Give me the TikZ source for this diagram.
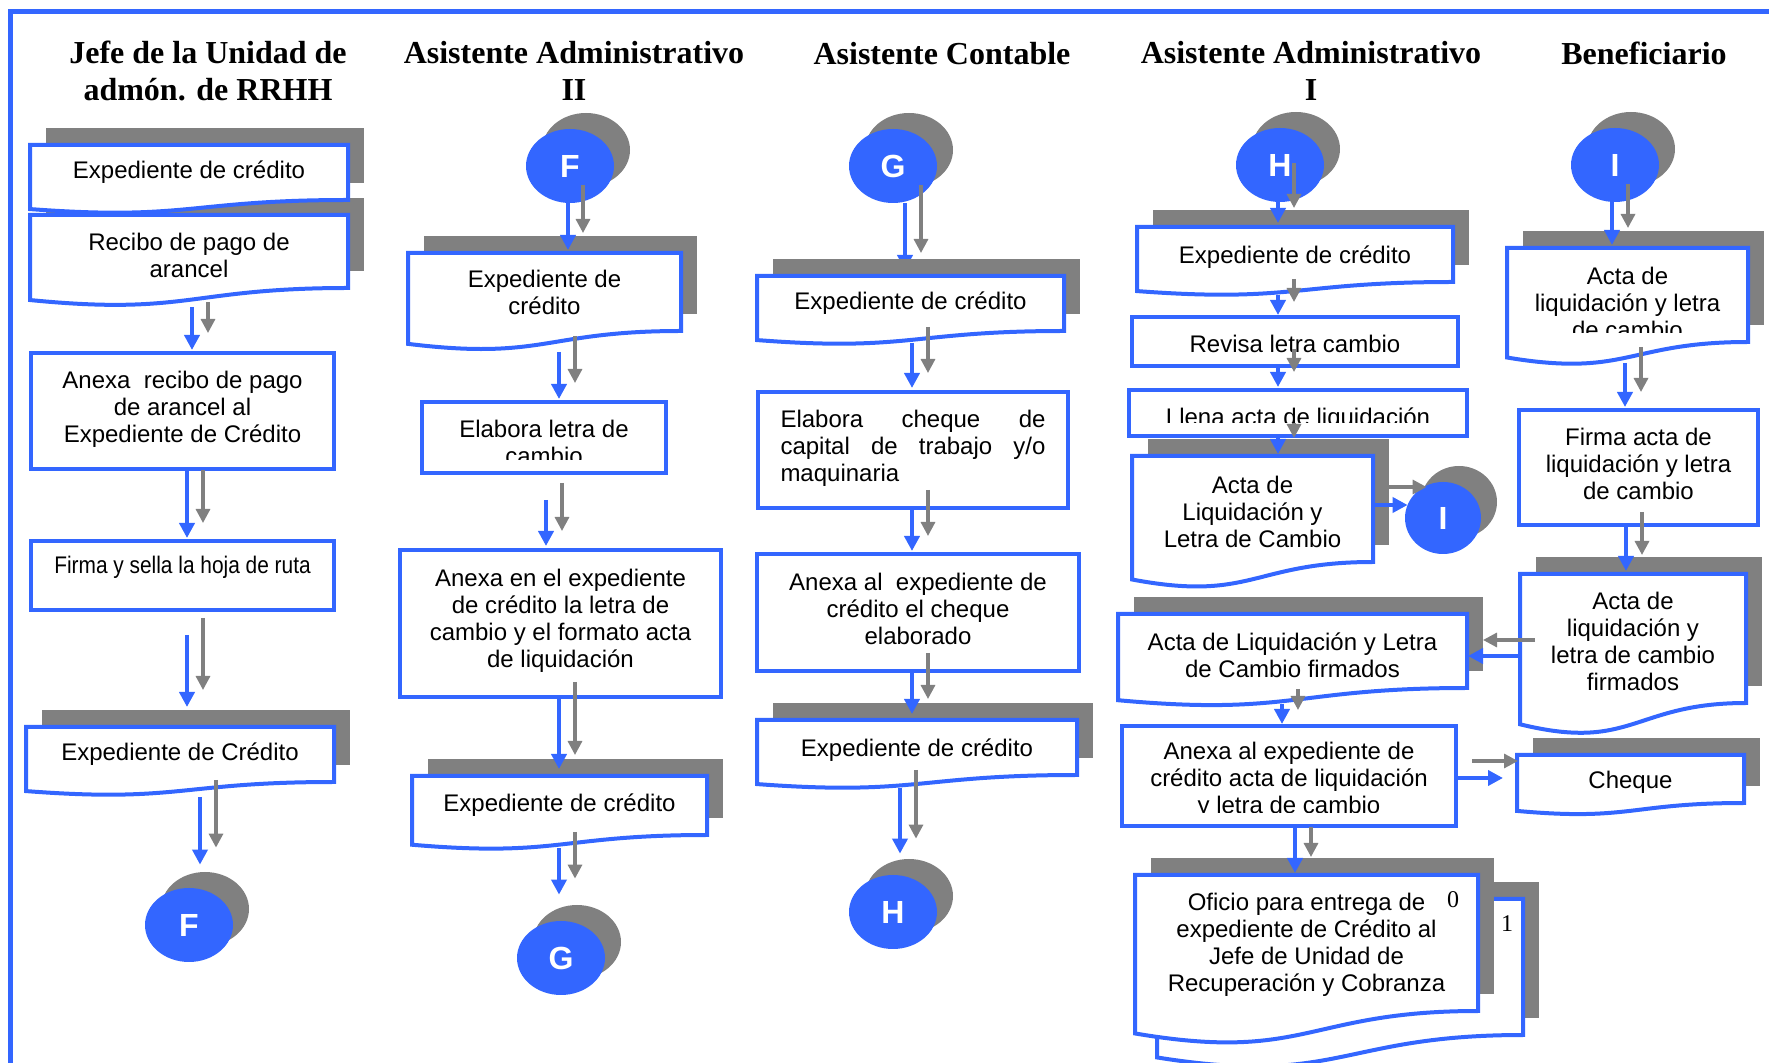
\documentclass[tikz,border=0pt]{standalone}
\usepackage{fontspec}
\setmainfont{Liberation Sans}
\newfontfamily\hdfont{Liberation Serif}
\usepackage{graphicx}
\usetikzlibrary{arrows.meta,shapes.geometric}
\pgfdeclarelayer{bg}
\pgfsetlayers{bg,main}
\definecolor{cblue}{RGB}{51,102,255}
\definecolor{cgray}{RGB}{128,128,128}
\tikzset{
 frame/.style={draw=cblue, line width=2.5pt, line join=miter},
 shade/.style={fill=cgray},
 docpath/.style={draw=cblue, fill=white, line width=2pt, line join=miter},
 shapenode/.style={inner sep=0pt, outer sep=0pt, align=center, font=\fontsize{12}{13.5}\selectfont},
 boxnode/.style={shapenode, draw=cblue, fill=white, line width=2pt},
 conn/.style={ellipse, fill=cblue, inner sep=0pt, minimum width=44pt, minimum height=37pt, text=white, font=\bfseries\fontsize{16}{18}\selectfont},
 head/.style={font=\hdfont\bfseries\fontsize{16}{18.5}\selectfont, align=center, inner sep=0pt},
 flow/.style={draw=cblue, line width=2pt, -{Triangle[length=7.5pt,width=7.5pt]}},
 sflow/.style={draw=cgray, line width=1.6pt, -{Triangle[length=7pt,width=7pt]}},
 num/.style={font=\hdfont\fontsize{12}{14}\selectfont, inner sep=0pt},
}
% shift text down / up (1pt here moves the text 1px)
\newcommand\dn[2]{\raisebox{0pt}[\dimexpr\height+#1\relax][\depth]{#2}}
\newcommand\up[2]{\raisebox{0pt}[\height][\dimexpr\depth+#1\relax]{#2}}
\newcommand\docshadow[4]{\fill[shade] ({#1+16},{#2-17}) rectangle ({#1+#3+16},{#2+#4-17});}
\newcommand\docwave[4]{\draw[docpath] (#1,#2) -- ({#1+#3},#2) -- ({#1+#3},{#2+#4}) .. controls ({#1+0.5*#3},{#2+#4}) and ({#1+0.5*#3},{#2+1.38*#4}) .. (#1,{#2+1.165*#4}) -- cycle;}
\newcommand\docshape[6]{\docwave{#2}{#3}{#4}{#5}
 \node[shapenode, minimum width={#4*0.5pt}, minimum height={#5*0.5pt}] (#1) at ({#2+0.5*#4},{#3+0.5*#5}) {#6};}
\newcommand\docclip[7]{\docwave{#2}{#3}{#4}{#5}
 \begin{scope}\clip (#2,#3) rectangle ({#2+#4},#6);
 \node[shapenode, minimum width={#4*0.5pt}, minimum height={#5*0.5pt}] (#1) at ({#2+0.5*#4},{#3+0.5*#5}) {#7};
 \end{scope}}
\newcommand\bx[6]{\node[boxnode, minimum width={(#4-#2)*0.5pt}, minimum height={(#5-#3)*0.5pt}] (#1) at ({(#2+#4)/2},{(#3+#5)/2}) {#6};}
\newcommand\bxclip[7]{\draw[draw=cblue, fill=white, line width=2pt] (#2,#3) rectangle (#4,#5);
 \begin{scope}\clip (#2,#3) rectangle (#4,#6);
 \node[shapenode, minimum width={(#4-#2)*0.5pt}, minimum height={(#5-#3)*0.5pt}] (#1) at ({(#2+#4)/2},{(#3+#5)/2}) {#7};
 \end{scope}}
\newcommand\cshadow[2]{\fill[shade] ({#1+16},{#2-16}) ellipse [x radius=22pt, y radius=18.5pt];}

\begin{document}
\begin{tikzpicture}[x=0.5pt,y=-0.5pt]
\useasboundingbox (0,0) rectangle (1769,1063);
\draw[frame] (10.5,1063) -- (10.5,11.5) -- (1769,11.5);

% headings
\node[head] (h1) at (208,70.5) {Jefe de la Unidad de\\admón. de RRHH};
\node[head] (h2) at (574,70.5) {Asistente Administrativo\\II};
\node[head, anchor=base] (h3) at (942,65) {Asistente Contable};
\node[head] (h4) at (1311,70.5) {Asistente Administrativo\\I};
\node[head, anchor=base] (h5) at (1644,65) {Beneficiario};

% shadows
\docshadow{30}{145}{318}{55}
\docshadow{30}{215}{318}{73}
\docshadow{26}{727}{308}{55}
\docshadow{408}{253}{273}{78}
\docshadow{412}{776}{295}{59}
\docshadow{757}{276}{307}{55}
\docshadow{757}{720}{320}{55}
\docshadow{1137}{227}{316}{55}
\docshadow{1132}{456}{241}{106}
\docshadow{1118}{614}{349}{74}
\docshadow{1507}{248}{241}{94}
\docshadow{1520}{574}{226}{129}
\docshadow{1517}{755}{227}{48}
\cshadow{189}{925}
\cshadow{570}{166}
\cshadow{561}{958}
\cshadow{893}{166}
\cshadow{893}{912}
\cshadow{1280}{165}
\cshadow{1615}{165}
\fill[shade] (1459,502) ellipse [x radius=19pt, y radius=18pt];

% column 1
\docshape{j1}{30}{145}{318}{55}{Expediente de crédito}
\docshape{j2}{30}{215}{318}{73}{\dn{3.5pt}{Recibo de pago de}\\arancel}
\bx{j3}{31}{353}{334}{469}{Anexa\ \ recibo de pago\\de arancel al\\\up{1.5pt}{Expediente de Crédito}}
\bx{j4}{31}{541}{334}{610}{\up{8.5pt}{\scalebox{0.87}[1]{Firma y sella la hoja de ruta}}}
\docshape{j5}{26}{727}{308}{55}{Expediente de Crédito}
\node[conn] (F1) at (189,925) {F};

% column 2
\node[conn] (F2) at (570,166) {F};
\docshape{k1}{408}{253}{273}{78}{Expediente de\\crédito}
\bxclip{k2}{422}{402}{666}{473}{460}{\dn{5pt}{Elabora letra de}\\cambio}
\bx{k3}{400}{550}{721}{697}{Anexa en el expediente\\de crédito la letra de\\cambio y el formato acta\\\up{3pt}{de liquidación}}
\docshape{k4}{412}{776}{295}{59}{Expediente de crédito}
\node[conn] (G1) at (561,958) {G};

% column 3
\node[conn] (G2) at (893,166) {G};
\docshape{m1}{757}{276}{307}{55}{Expediente de crédito}
\node[boxnode, minimum width=155pt, minimum height=58pt, text width=132.5pt, align=left] (m2) at (913,450)
 {Elabora\hfill cheque\hfill de\\capital\hfill de\hfill trabajo\hfill y/o\\\up{2pt}{maquinaria}};
\bx{m3}{757}{554}{1079}{671}{Anexa al\ \ expediente de\\crédito el cheque\\\up{3.5pt}{elaborado}}
\docshape{m4}{757}{720}{320}{55}{\dn{2.5pt}{Expediente de crédito}}
\node[conn] (H1) at (893,912) {H};

% column 4
\node[conn] (H2) at (1280,165) {H};
\docshape{n1}{1137}{227}{316}{55}{\dn{2.5pt}{Expediente de crédito}}
\bx{n2}{1132}{317}{1458}{366}{\dn{2pt}{Revisa letra cambio}}
\bxclip{n3}{1129}{390}{1467}{436}{423}{\dn{6pt}{Llena acta de liquidación}}
\docshape{n4}{1132}{456}{241}{106}{\dn{2.5pt}{Acta de}\\Liquidación y\\Letra de Cambio}
\node[conn, minimum width=38pt, minimum height=36pt] (I2) at (1443,518) {I};
\docshape{n5}{1118}{614}{349}{74}{\dn{4pt}{Acta de Liquidación y Letra}\\de Cambio firmados}
\bxclip{n6}{1122}{726}{1456}{826}{813}{\dn{4.5pt}{Anexa al expediente de}\\crédito acta de liquidación\\y letra de cambio}
% multi-document
\docshadow{1157}{899}{366}{136}
\docwave{1157}{899}{366}{136}
\node[num] (z1) at (1507,924) {1};
\docshadow{1135}{875}{343}{136}
\docshape{n7}{1135}{875}{343}{136}{\dn{2pt}{Oficio para entrega de}\\expediente de Crédito al\\Jefe de Unidad de\\Recuperación y Cobranza}
\node[num] (z0) at (1453,900) {0};

% column 5
\node[conn] (I3) at (1615,165) {I};
\docclip{p1}{1507}{248}{241}{94}{333}{\dn{8pt}{Acta de}\\liquidación y letra\\de cambio}
\bx{p2}{1519}{410}{1758}{525}{Firma acta de\\liquidación y letra\\\up{3.5pt}{de cambio}}
\docshape{p3}{1520}{574}{226}{129}{\dn{2.5pt}{Acta de}\\liquidación y\\letra de cambio\\firmados}
\docshape{p4}{1517}{755}{227}{48}{\dn{3pt}{Cheque}}

% connectors, column 1
\draw[flow] ([shift={(3,19)}]j2.south) -- ([shift={(9.5,-3)}]j3.north);
\draw[sflow] ([shift={(19,14)}]j2.south) -- ([shift={(25.5,-20)}]j3.north);
\draw[flow] ([shift={(4.5,0)}]j3.south) -- ([shift={(4.5,-3)}]j4.north);
\draw[sflow] ([shift={(20.5,1)}]j3.south) -- ([shift={(20.5,-18)}]j4.north);
\draw[flow] ([shift={(4.5,25)}]j4.south) -- ([shift={(7,-20)}]j5.north);
\draw[sflow] ([shift={(20.5,8)}]j4.south) -- ([shift={(23,-37)}]j5.north);
\draw[flow] ([shift={(20,15)}]j5.south) -- ([shift={(11,-23)}]F1.north);
\draw[sflow] ([shift={(36,-2)}]j5.south) -- ([shift={(27,-40)}]F1.north);
% column 2
\draw[flow] ([shift={(-2,0)}]F2.south) -- ([shift={(23.5,-3)}]k1.north);
\draw[sflow] ([shift={(13,-18)}]F2.south) -- ([shift={(38.5,-20)}]k1.north);
\draw[flow] ([shift={(14.5,21)}]k1.south) -- ([shift={(15,-3)}]k2.north);
\draw[sflow] ([shift={(30.5,5)}]k1.south) -- ([shift={(31,-19)}]k2.north);
\draw[flow] ([shift={(2,27)}]k2.south) -- ([shift={(-14.5,-4)}]k3.north);
\draw[sflow] ([shift={(18,10)}]k2.south) -- ([shift={(1.5,-19)}]k3.north);
\draw[flow] ([shift={(-1.5,0)}]k3.south) -- ([shift={(-0.5,-7)}]k4.north);
\draw[sflow] ([shift={(14.5,-15)}]k3.south) -- ([shift={(15.5,-21)}]k4.north);
\draw[flow] ([shift={(-0.5,13)}]k4.south) -- ([shift={(-2,-26)}]G1.north);
\draw[sflow] ([shift={(15.5,-3)}]k4.south) -- ([shift={(14,-42)}]G1.north);
% column 3
\begin{pgfonlayer}{bg}
\draw[flow] ([shift={(12,0)}]G2.south) -- ([shift={(-5.5,-6)}]m1.north);
\end{pgfonlayer}
\draw[sflow] ([shift={(28,-18)}]G2.south) -- ([shift={(10.5,-23)}]m1.north);
\draw[flow] ([shift={(1.5,12)}]m1.south) -- ([shift={(-1,-4)}]m2.north);
\draw[sflow] ([shift={(17.5,-4)}]m1.south) -- ([shift={(15,-19)}]m2.north);
\draw[flow] ([shift={(-1,0)}]m2.south) -- ([shift={(-6,-3)}]m3.north);
\draw[sflow] ([shift={(15,-18)}]m2.south) -- ([shift={(10,-18)}]m3.north);
\draw[flow] ([shift={(-6,0)}]m3.south) -- ([shift={(-5,-6)}]m4.north);
\draw[sflow] ([shift={(10,-18)}]m3.south) -- ([shift={(11,-21)}]m4.north);
\draw[flow] ([shift={(-17,13)}]m4.south) -- ([shift={(7,-21)}]H1.north);
\draw[sflow] ([shift={(-1,-5)}]m4.south) -- ([shift={(23,-36)}]H1.north);
% column 4
\draw[flow] ([shift={(-2,0)}]H2.south) -- ([shift={(-17,-4)}]n1.north);
\draw[sflow] ([shift={(14,-39)}]H2.south) -- ([shift={(-1,-19)}]n1.north);
\draw[flow] ([shift={(-17,13)}]n1.south) -- ([shift={(-17,-2)}]n2.north);
\draw[sflow] ([shift={(-1,-3)}]n1.south) -- ([shift={(-1,-15)}]n2.north);
\draw[flow] ([shift={(-17,0)}]n2.south) -- ([shift={(-20,-3)}]n3.north);
\draw[sflow] ([shift={(-1,-17)}]n2.south) -- ([shift={(-4,-18)}]n3.north);
\draw[flow] ([shift={(-20,0)}]n3.south) -- ([shift={(25.5,-2)}]n4.north);
\draw[sflow] ([shift={(-4,-13)}]n3.south) -- ([shift={(41.5,-18)}]n4.north);
\draw[flow] ([shift={(0,-4)}]n4.east) -- ([shift={(3,-13)}]I2.west);
\draw[sflow] ([shift={(16,-22)}]n4.east) -- ([shift={(22,-31)}]I2.west);
\draw[flow] ([shift={(-2,17.5)}]p3.west) -- ([shift={(1,5)}]n5.east);
\draw[sflow] ([shift={(15,1.5)}]p3.west) -- ([shift={(16,-11)}]n5.east);
\draw[flow] ([shift={(-10.5,16)}]n5.south) -- ([shift={(-7,-2)}]n6.north);
\draw[sflow] ([shift={(5.5,1)}]n5.south) -- ([shift={(9,-16)}]n6.north);
\draw[flow] ([shift={(0,2)}]n6.east) -- ([shift={(-14,-1)}]p4.west);
\draw[sflow] ([shift={(16,-15)}]n6.east) -- ([shift={(1,-18)}]p4.west);
\draw[flow] ([shift={(6,0)}]n6.south) -- ([shift={(-11.5,-2)}]n7.north);
\draw[sflow] ([shift={(22,1)}]n6.south) -- ([shift={(4.5,-18)}]n7.north);
% column 5
\draw[flow] ([shift={(-3,0)}]I3.south) -- ([shift={(-15.5,-3)}]p1.north);
\draw[sflow] ([shift={(13,-18)}]I3.south) -- ([shift={(0.5,-20)}]p1.north);
\draw[flow] ([shift={(-2.5,21)}]p1.south) -- ([shift={(-13.5,-3)}]p2.north);
\draw[sflow] ([shift={(13.5,5)}]p1.south) -- ([shift={(2.5,-18)}]p2.north);
\draw[flow] ([shift={(-12.5,0)}]p2.south) -- ([shift={(-7,-3)}]p3.north);
\draw[sflow] ([shift={(3.5,-13)}]p2.south) -- ([shift={(9,-19)}]p3.north);
\end{tikzpicture}
\end{document}
